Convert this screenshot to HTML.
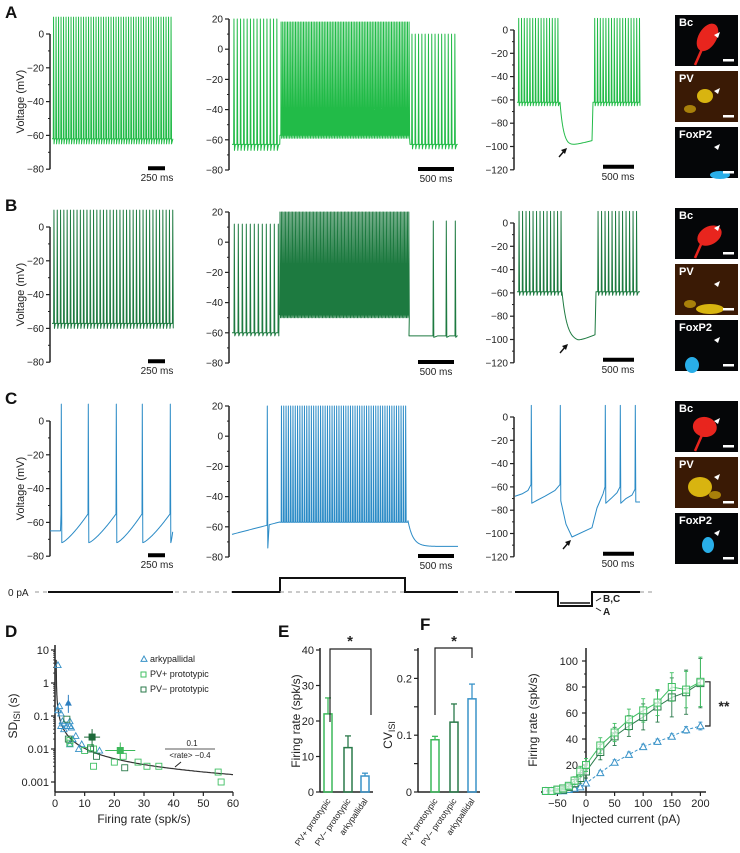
<!DOCTYPE html>
<html><head><meta charset="utf-8"><style>
html,body{margin:0;padding:0;background:#fff;}
svg{display:block;font-family:"Liberation Sans",sans-serif;}
</style></head><body>
<svg id="fig" width="740" height="853" viewBox="0 0 740 853" xmlns="http://www.w3.org/2000/svg"></svg>
<script>
// ---------- data ----------
const rowOffsets=[0,193,387];
const rowColors=['#22bb48','#1d7a40','#2b8bc6'];
const vTicks1=[0,-20,-40,-60,-80];
const vTicks2=[20,0,-20,-40,-60,-80];
const vTicks3=[0,-20,-40,-60,-80,-100,-120];
// C hyperpolarizing trace keypoints (x px, mV)
const cHypX=[515,522,528,531,531.3,531.8,536,545,555,560,560.3,560.8,566,572,592,597,603,605,605.3,605.8,611,617,620,620.3,620.8,626,632,635,635.3,635.8,640];
const cHypV=[-68,-66,-63,-58,10,-74,-72,-68,-63,-58,10,-72,-92,-103,-95,-78,-66,-60,10,-74,-70,-65,-60,10,-74,-70,-67,-62,10,-73,-73];
// D scatter data (rate spk/s, SD s)
const dArkRate=[1,1,1.5,2,2,2.5,3,3,4,5,5,5.5,6,7,8,9,15,5];
const dArkSD=[3.5,0.15,0.2,0.12,0.05,0.07,0.04,0.06,0.05,0.07,0.05,0.045,0.02,0.025,0.01,0.014,0.009,0.014];
const dPVpRate=[5,10,12,13,20,23,28,31,35,55,56,13,5];
const dPVpSD=[0.015,0.009,0.011,0.01,0.004,0.006,0.004,0.003,0.003,0.002,0.001,0.003,0.018];
const dPVmRate=[4,4.5,14,23.5,12];
const dPVmSD=[0.08,0.02,0.006,0.0027,0.01];
const dMeanRate=[4.5,22,12.5];
const dMeanSD=[0.25,0.009,0.023];
const dXTicks=[0,10,20,30,40,50,60];
const dYTicks=[10,1,0.1,0.01,0.001];
const dYLabels=['10','1','0.1','0.01','0.001'];
// E data
const eCats=['PV+ prototypic','PV\u2212 prototypic','arkypallidal'];
const eRate=[22,12.5,4.5];
const eRateErr=[4.5,3.3,0.8];
const eCV=[0.092,0.123,0.164];
const eCVErr=[0.006,0.032,0.026];
// F data
const fCurrent=[-70,-60,-50,-40,-30,-20,-10,0,25,50,75,100,125,150,175,200];
const fPVp=[0,0,1,2,4,8,15,20,35,45,55,62,68,80,78,84];
const fPVpErr=[0,0,1,1,2,3,4,5,6,7,8,9,10,11,14,19];
const fPVm=[0,0,1,1,3,6,10,15,30,42,50,57,65,72,76,83];
const fPVmErr=[0,0,1,1,2,3,4,5,6,7,8,10,12,15,17,19];
const fArk=[0,0,0,0,1,2,3,6,14,22,28,34,38,42,47,50];
const fArkErr=[0,0,0,0,0.5,1,1,1,1.5,2,2,2,2,2,2.5,3];

const NS='http://www.w3.org/2000/svg';
const svg=document.getElementById('fig');
function mk(tag,attrs,name,parent){
  const e=document.createElementNS(NS,tag);
  for(const k in attrs)e.setAttribute(k,attrs[k]);
  
  
  (parent||svg).appendChild(e);return e;
}
function txt(x,y,s,name,opt){
  opt=opt||{};
  const t=mk('text',{x:x,y:y,'font-size':opt.size||10,'text-anchor':opt.anchor||'middle',fill:opt.fill||'#222','font-weight':opt.weight||'normal'},name,opt.parent);
  if(opt.transform)t.setAttribute('transform',opt.transform);
  t.textContent=s;return t;
}
function line(x1,y1,x2,y2,name,w,c,dash){
  const l=mk('line',{x1:x1,y1:y1,x2:x2,y2:y2,stroke:c||'#222','stroke-width':w||1},name);
  if(dash)l.setAttribute('stroke-dasharray',dash);return l;
}

// ---------- voltage axes ----------
const cols=[
 {ax:50,top:34,perV:33.8/20,ticks:vTicks1,v0:0},
 {ax:229,top:19,perV:30.2/20,ticks:vTicks2,v0:20},
 {ax:514,top:30,perV:23.3/20,ticks:vTicks3,v0:0}
];
function yV(c,r,v){const C=cols[c];return C.top+(C.v0-v)*C.perV+rowOffsets[r];}
for(let r=0;r<3;r++){
  txt(5,[18,211,404][r],['A','B','C'][r],'panel-label-'+['a','b','c'][r],{size:17,weight:'bold',anchor:'start',fill:'#111'});
  txt(20,yV(0,r,-40)+4,'Voltage (mV)','y-axis-title-row-'+r,{size:11,transform:'rotate(-90 20 '+(yV(0,r,-40))+')'});
  for(let c=0;c<3;c++){
    const C=cols[c];
    const tks=C.ticks;
    line(C.ax,yV(c,r,tks[0]),C.ax,yV(c,r,tks[tks.length-1]),'voltage-axis',1.5);
    for(let i=0;i<tks.length;i++){
      const y=yV(c,r,tks[i]);
      line(C.ax-4,y,C.ax,y,'y-tick',1.2);
      txt(C.ax-6,y+3.5,(tks[i]<0?'\u2212'+(-tks[i]):''+tks[i]),'y-tick-label',{size:10,anchor:'end'});
      if(i<tks.length-1){const ym=yV(c,r,(tks[i]+tks[i+1])/2);line(C.ax-2,ym,C.ax,ym,'y-minor-tick',1);}
    }
  }
  const yb=yV(0,r,-80)-1;
  line(148,yb,165,yb,'scale-bar-250ms',4,'#000');
  txt(157,yb+13,'250 ms','scale-bar-label',{size:10});
  const yb2=yV(1,r,-80)-1;
  line(418,yb2,454,yb2,'scale-bar-500ms',4,'#000');
  txt(436,yb2+13,'500 ms','scale-bar-label',{size:10});
  const yb3=yV(2,r,-120)-3;
  line(603,yb3,634,yb3,'scale-bar-500ms',4,'#000');
  txt(618,yb3+13,'500 ms','scale-bar-label',{size:10});
}

// ---------- traces ----------
function seg(x0,x1,baseFn,spikes,peak,trough,ramp){return {x0,x1,baseFn,spikes,peak,trough,ramp};}
function spikesEvery(x0,x1,isi){const a=[];for(let x=x0+isi/2;x<x1-0.5;x+=isi)a.push(x);return a;}
const flat=v=>(x=>v);
const expTo=(x0,vs,ve,tau)=>(x=>ve+(vs-ve)*Math.exp(-(x-x0)/tau));
function drawTrace(c,r,segs,name){
  const pts=[];
  segs.forEach(s=>{
    const sp=s.spikes;
    let x=s.x0;let k=0;
    let lastSpike=null;
    while(x<=s.x1){
      if(k<sp.length&&x>=sp[k]){
        const xs=sp[k];
        pts.push([xs,s.baseFn(xs)+(s.ramp?s.ramp:0)]);
        pts.push([xs+0.3,s.peak]);
        pts.push([xs+0.8,s.trough]);
        lastSpike=xs+0.8;k++;x=xs+1.2;continue;
      }
      let v=s.baseFn(x);
      if(lastSpike!==null){
        const nx=k<sp.length?sp[k]:lastSpike+4;
        const f=Math.min(1,(x-lastSpike)/Math.max(0.6,(nx-lastSpike)));
        if(s.ramp) v=s.trough+(s.baseFn(x)+s.ramp-s.trough)*Math.pow(f,1.3);
        else v=s.trough+(v-s.trough)*Math.min(1,f*3);
      }
      pts.push([x,v]);x+=0.5;
    }
  });
  mk('polyline',{points:pts.map(p=>p[0].toFixed(2)+','+yV(c,r,p[1]).toFixed(2)).join(' '),fill:'none',stroke:rowColors[r],'stroke-width':1,'stroke-linejoin':'round'},name);
}
function drawKey(c,r,xs,vs,name){
  mk('polyline',{points:xs.map((x,i)=>x.toFixed(2)+','+yV(c,r,vs[i]).toFixed(2)).join(' '),fill:'none',stroke:rowColors[r],'stroke-width':1,'stroke-linejoin':'round'},name);
}
// Row A
drawTrace(0,0,[seg(52,173,flat(-62),spikesEvery(52,173,2.5),10,-65)],'trace-a-spontaneous');
drawTrace(1,0,[seg(232,280,flat(-63),spikesEvery(232,280,3.3),20,-67),seg(280,410,flat(-57),spikesEvery(280,410,1.6),18,-59),seg(410,458,flat(-63),spikesEvery(410,458,3.3),10,-66)],'trace-a-depolarizing');
drawTrace(2,0,[seg(517,560,flat(-62),spikesEvery(517,560,2.8),10,-65),seg(560,592,x=>-100+38*Math.exp(-(x-560)/3.5)+(x>568?5*(x-568)/24:0),[],0,0),seg(593,640,flat(-62),spikesEvery(593,640,2.8),10,-65)],'trace-a-hyperpolarizing');
// Row B
drawTrace(0,1,[seg(52,173,flat(-57),spikesEvery(52,173,3.3),10,-60)],'trace-b-spontaneous');
drawTrace(1,1,[seg(232,279,flat(-60),spikesEvery(232,279,4),12,-62),seg(279,409,flat(-48),spikesEvery(279,409,1.4),20,-50),seg(409,458,flat(-62),[433,446,455],14,-63)],'trace-b-depolarizing');
drawTrace(2,1,[seg(517,562,flat(-59),spikesEvery(517,562,3.5),10,-62),seg(562,595,x=>{const d=-102+43*Math.exp(-(x-562)/5);return x>578?d+6*(x-578)/17:d;},[],0,0),seg(596,640,flat(-59),spikesEvery(596,640,3.5),10,-62)],'trace-b-hyperpolarizing');
// Row C
drawTrace(0,2,[seg(50,173,flat(-65),[61,88,116,142,170],10,-72,10)],'trace-c-spontaneous');
drawTrace(1,2,[seg(232,280,x=>-65+6*(x-232)/35,[267],20,-74),seg(280,408,flat(-57),spikesEvery(280,408,2.3),20,-57),seg(408,458,expTo(408,-56,-73,5),[],0,0)],'trace-c-depolarizing');
drawKey(2,2,cHypX,cHypV,'trace-c-hyperpolarizing');

// arrows in col3 (tip positions)
[[566,149],[567,345],[570,541]].forEach(a=>{
  const x=a[0],y=a[1];
  line(x-7,y+8,x-1,y+1,'hyperpolarization-arrow',1.4,'#111');
  mk('polygon',{points:`${x+1},${y-1} ${x-5},${y+1} ${x-1},${y+5}`,fill:'#111'},'arrow-head');
});

// ---------- images ----------
const imgY=[[15,71,127],[208,264,320],[401,457,513]];
const imgLabels=['Bc','PV','FoxP2'];
for(let r=0;r<3;r++){
  for(let k=0;k<3;k++){
    const y=imgY[r][k];
    const g=mk('g',{},'micrograph-'+imgLabels[k].toLowerCase());
    mk('rect',{x:675,y:y,width:63,height:51,fill:k==1?'#3a1a05':'#050608'},'micrograph-background',g);
    if(k==0){
      mk('ellipse',{cx:[706,708,705][r],cy:y+[22,28,26][r],rx:[9,13,12][r],ry:[15,9,10][r],fill:'#e8251e',transform:`rotate(${[30,-30,10][r]} ${[706,708,705][r]} ${y+25})`},'cell-body',g);
      mk('line',{x1:695,y1:y+50,x2:706,y2:y+25,stroke:'#e8251e','stroke-width':2.5},'dendrite',g);
    } else if(k==1){
      mk('ellipse',{cx:[705,710,700][r],cy:y+[25,45,30][r],rx:[8,14,12][r],ry:[7,5,10][r],fill:'#d8b410'},'pv-blob',g);
      mk('ellipse',{cx:[690,690,715][r],cy:y+[38,40,38][r],rx:6,ry:4,fill:'#a8800a'},'pv-blob',g);
    } else {
      mk('ellipse',{cx:[720,692,708][r],cy:y+[48,45,32][r],rx:[10,7,6][r],ry:[4,8,8][r],fill:'#29aee8'},'foxp2-cell',g);
    }
    txt(679,y+11,imgLabels[k],'micrograph-label',{size:11,weight:'bold',anchor:'start',fill:'#fff',parent:g});
    mk('rect',{x:723,y:y+44,width:11,height:2.5,fill:'#fff'},'micrograph-scale-bar',g);
    mk('polygon',{points:`714,${y+20} 720,${y+17} 718,${y+23}`,fill:'#fff'},'arrowhead-marker',g);
  }
}

// ---------- stimulus ----------
txt(8,596,'0 pA','stimulus-zero-label',{size:10,anchor:'start'});
line(35,592,48,592,'zero-dashed',1.2,'#aaa','4 4');
line(48,592,173,592,'stimulus-trace',2,'#111');
line(175,592,232,592,'zero-dashed',1.2,'#aaa','4 4');
mk('polyline',{points:'232,592 280,592 280,578 405,578 405,592 458,592',fill:'none',stroke:'#111','stroke-width':2},'stimulus-depolarizing');
line(280,592,405,592,'zero-dashed',1.2,'#aaa','4 4');
line(460,592,515,592,'zero-dashed',1.2,'#aaa','4 4');
mk('polyline',{points:'515,592 558,592 558,606 592,606 592,592 640,592',fill:'none',stroke:'#111','stroke-width':2},'stimulus-hyperpolarizing-a');
mk('polyline',{points:'560,603 590,603',fill:'none',stroke:'#111','stroke-width':1.5},'stimulus-hyperpolarizing-bc');
line(640,592,655,592,'zero-dashed',1.2,'#aaa','4 4');
line(596,601,601,598,'bc-pointer',1);line(596,608,601,611,'a-pointer',1);
txt(603,602,'B,C','stimulus-label-bc',{size:10,anchor:'start',weight:'bold'});
txt(603,615,'A','stimulus-label-a',{size:10,anchor:'start',weight:'bold'});

// ---------- Panel D ----------
const dX=r=>55+r*(178/60);
const dY=v=>782-(Math.log10(v)+3)*33;
txt(5,637,'D','panel-label-d',{size:17,weight:'bold',anchor:'start',fill:'#111'});
line(55,645,55,792,'d-y-axis',1.5);line(55,792,233,792,'d-x-axis',1.5);
dYTicks.forEach((v,i)=>{line(51,dY(v),55,dY(v),'d-y-tick',1.2);txt(49,dY(v)+4,dYLabels[i],'d-y-tick-label',{size:11,anchor:'end'});
  if(i<dYTicks.length-1)for(let m=2;m<10;m++){const yy=dY(v/10*m);line(53,yy,55,yy,'d-minor-tick',0.8);}});
dXTicks.forEach(v=>{line(dX(v),792,dX(v),796,'d-x-tick',1.2);txt(dX(v),807,''+v,'d-x-tick-label',{size:11});});
txt(144,823,'Firing rate (spk/s)','d-x-axis-title',{size:12});
const dyt=mk('text',{x:0,y:0,'font-size':12,'text-anchor':'middle',fill:'#222',transform:'translate(17 716) rotate(-90)'},'d-y-axis-title');
dyt.innerHTML='SD<tspan font-size="9" dy="3">ISI</tspan><tspan dy="-3"> (s)</tspan>';
{const p=[];for(let r=0.42;r<=60;r+=(r<3?0.02:0.5))p.push(dX(r).toFixed(1)+','+Math.max(645,dY(0.1/(r-0.4))).toFixed(1));
 mk('polyline',{points:p.join(' '),fill:'none',stroke:'#333','stroke-width':1.2},'d-fit-curve');}
txt(192,746,'0.1','d-fit-numerator',{size:8});line(165,749,215,749,'d-fit-fraction-bar',0.8);
txt(190,758,'<rate> \u22120.4','d-fit-denominator',{size:8});
line(175,767,181,762,'d-fit-arrow',1);
const tri=(x,y,s)=>`${x},${y-s} ${x-s},${y+s*0.8} ${x+s},${y+s*0.8}`;
dArkRate.forEach((r,i)=>mk('polygon',{points:tri(dX(r),dY(dArkSD[i]),3.2),fill:'none',stroke:'#3a93c8','stroke-width':0.9},'d-point-arkypallidal'));
dPVpRate.forEach((r,i)=>mk('rect',{x:dX(r)-3,y:dY(dPVpSD[i])-3,width:6,height:6,fill:'none',stroke:'#3fbf62','stroke-width':0.9},'d-point-pv-plus'));
dPVmRate.forEach((r,i)=>mk('rect',{x:dX(r)-3,y:dY(dPVmSD[i])-3,width:6,height:6,fill:'none',stroke:'#2a7a4a','stroke-width':0.9},'d-point-pv-minus'));
const mc=['#2d7fc0','#3cb85a','#1d6a3a'];
dMeanRate.forEach((r,i)=>{
  const x=dX(r),y=dY(dMeanSD[i]);
  line(x,y-8,x,y+10,'d-mean-error',1,mc[i]);line(x-[2,15,8][i],y,x+[2,15,8][i],y,'d-mean-error',1,mc[i]);
  if(i==0)mk('polygon',{points:tri(x,y,3.5),fill:mc[i]},'d-mean-arkypallidal');
  else mk('rect',{x:x-3.5,y:y-3.5,width:7,height:7,fill:mc[i]},i==1?'d-mean-pv-plus':'d-mean-pv-minus');
});
mk('polygon',{points:tri(144,659,3),fill:'none',stroke:'#3a93c8'},'legend-arkypallidal-marker');
txt(150,662,'arkypallidal','legend-arkypallidal',{size:9,anchor:'start'});
mk('rect',{x:141,y:672,width:5,height:5,fill:'none',stroke:'#3fbf62'},'legend-pv-plus-marker');
txt(150,677,'PV+ prototypic','legend-pv-plus',{size:9,anchor:'start'});
mk('rect',{x:141,y:687,width:5,height:5,fill:'none',stroke:'#2a7a4a'},'legend-pv-minus-marker');
txt(150,692,'PV\u2212 prototypic','legend-pv-minus',{size:9,anchor:'start'});

// ---------- Panel E ----------
txt(278,637,'E','panel-label-e',{size:17,weight:'bold',anchor:'start',fill:'#111'});
const eCol=['#3cb85a','#2a7a4a','#3a93c8'];
function barChart(ax,xs,vals,errs,yMax,ticks,tlabels,nm){
  const y=v=>792-v*(142/yMax);
  line(ax,648,ax,792,nm+'-y-axis',1.5);line(ax,792,xs[2]+8,792,nm+'-x-axis',1.5);
  ticks.forEach((t,i)=>{line(ax-4,y(t),ax,y(t),nm+'-y-tick',1.2);if(tlabels[i]!=='')txt(ax-6,y(t)+4,tlabels[i],nm+'-y-tick-label',{size:11,anchor:'end'});});
  vals.forEach((v,i)=>{
    mk('rect',{x:xs[i]-4,y:y(v),width:8,height:792-y(v),fill:'none',stroke:eCol[i],'stroke-width':1.5},nm+'-bar-'+i);
    line(xs[i],y(v),xs[i],y(v+errs[i]),nm+'-error-bar',1.3,eCol[i]);
    line(xs[i]-3,y(v+errs[i]),xs[i]+3,y(v+errs[i]),nm+'-error-cap',1.3,eCol[i]);
    txt(xs[i]+3,801,eCats[i],nm+'-category-label',{size:8.5,anchor:'end',transform:`rotate(-55 ${xs[i]+3} 801)`});
  });
}
barChart(320,[328,348,365],eRate,eRateErr,40,[0,10,20,30,40],['0','10','20','30','40'],'e-rate');
txt(300,721,'Firing rate (spk/s)','e-rate-y-title',{size:12,transform:'rotate(-90 300 721)'});
mk('polyline',{points:'330,722 330,649 371,649 371,715',fill:'none',stroke:'#222','stroke-width':1.2},'e-rate-significance-bracket');
txt(350,646,'*','e-rate-significance-star',{size:15,weight:'bold'});
barChart(418,[435,454,472],eCV,eCVErr,0.25,[0,0.05,0.1,0.15,0.2,0.25],['0','','0.1','','0.2',''],'e-cv');
const cvt=mk('text',{x:0,y:0,'font-size':12,'text-anchor':'middle',fill:'#222',transform:'translate(392 735) rotate(-90)'},'e-cv-y-title');
cvt.innerHTML='CV<tspan font-size="9" dy="3">ISI</tspan>';
mk('polyline',{points:'435,715 435,648 472,648 472,658',fill:'none',stroke:'#222','stroke-width':1.2},'e-cv-significance-bracket');
txt(454,646,'*','e-cv-significance-star',{size:15,weight:'bold'});

// ---------- Panel F ----------
txt(420,630,'F','panel-label-f',{size:17,weight:'bold',anchor:'start',fill:'#111'});
const fX=i=>586+i*0.572;const fY=v=>791-v*1.3;
line(586,648,586,792,'f-y-axis',1.5);line(541,792,706,792,'f-x-axis',1.5);
[20,40,60,80,100].forEach(t=>{line(582,fY(t),586,fY(t),'f-y-tick',1.2);txt(578,fY(t)+4,''+t,'f-y-tick-label',{size:11,anchor:'end'});});
[10,30,50,70,90].forEach(t=>line(584,fY(t),586,fY(t),'f-y-minor-tick',1));
[-50,0,50,100,150,200].forEach(t=>{line(fX(t),792,fX(t),796,'f-x-tick',1.2);txt(fX(t),807,t<0?'\u2212'+(-t):''+t,'f-x-tick-label',{size:11});});
txt(626,823,'Injected current (pA)','f-x-axis-title',{size:12});
txt(537,720,'Firing rate (spk/s)','f-y-axis-title',{size:12,transform:'rotate(-90 537 720)'});
function fSeries(vals,errs,col,marker,nm){
  mk('polyline',{points:fCurrent.map((c,i)=>fX(c).toFixed(1)+','+fY(vals[i]).toFixed(1)).join(' '),fill:'none',stroke:col,'stroke-width':1,'stroke-dasharray':marker=='tri'?'3 2':'none'},nm+'-line');
  fCurrent.forEach((c,i)=>{
    const x=fX(c),y=fY(vals[i]);
    if(errs[i]>0){line(x,fY(vals[i]-errs[i]),x,fY(vals[i]+errs[i]),nm+'-error',0.9,col);line(x-2,fY(vals[i]+errs[i]),x+2,fY(vals[i]+errs[i]),nm+'-cap',0.9,col);line(x-2,fY(vals[i]-errs[i]),x+2,fY(vals[i]-errs[i]),nm+'-cap',0.9,col);}
    if(marker=='tri')mk('polygon',{points:tri(x,y,3.5),fill:'#fff',stroke:col,'stroke-width':1},nm+'-point');
    else mk('rect',{x:x-3.5,y:y-3.5,width:7,height:7,fill:'#fff','fill-opacity':0.6,stroke:col,'stroke-width':1},nm+'-point');
  });
}
fSeries(fArk,fArkErr,'#3a93c8','tri','f-arkypallidal');
fSeries(fPVm,fPVmErr,'#2a7a4a','sq','f-pv-minus');
fSeries(fPVp,fPVpErr,'#3fbf62','sq','f-pv-plus');
mk('polyline',{points:`705,${fY(84)} 710,${fY(84)} 710,${fY(50)} 705,${fY(50)}`,fill:'none',stroke:'#222','stroke-width':1.2},'f-significance-bracket');
txt(724,711,'**','f-significance-stars',{size:14,weight:'bold'});
</script>
</body></html>
